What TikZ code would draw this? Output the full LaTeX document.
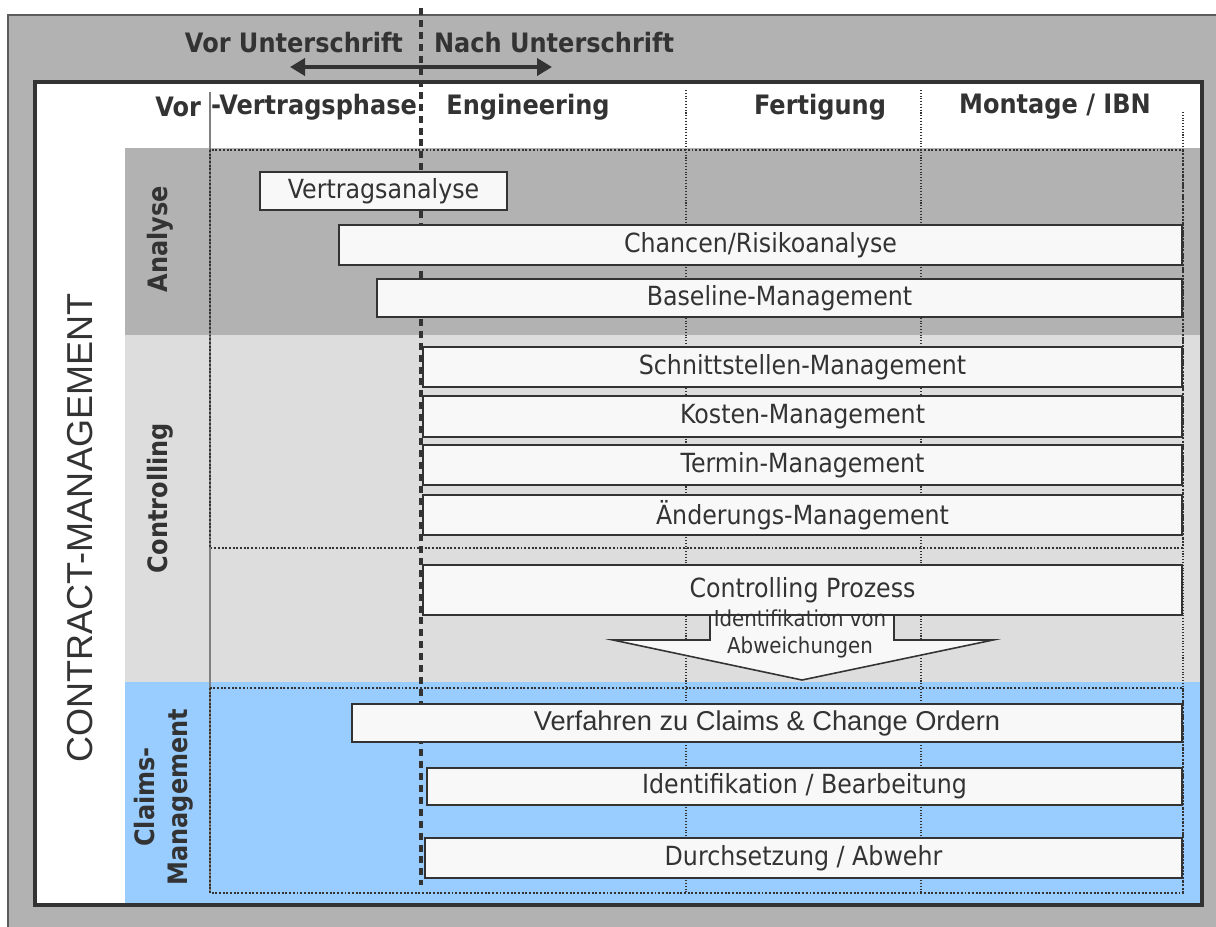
\documentclass[tikz,border=0pt]{standalone}
\usepackage{fontspec}
\setmainfont{DejaVu Sans}[FakeStretch=0.9]
\newfontfamily\arialfont{Liberation Sans}
\usetikzlibrary{arrows.meta,fit}

\definecolor{ink}{HTML}{333333}
\definecolor{frame}{HTML}{B2B2B2}
\definecolor{analyse}{HTML}{B2B2B2}
\definecolor{control}{HTML}{DDDDDD}
\definecolor{claims}{HTML}{99CCFF}
\definecolor{barfill}{HTML}{F8F8F8}

\begin{document}
\begin{tikzpicture}[x=0.2mm, y=-0.2mm]
\tikzset{ >={Triangle[length=3mm,width=3.4mm]}, inner sep=0pt, outer sep=0pt,
  taskbox/.style={draw=ink, line width=0.9pt, fill=barfill},
  task/.style={taskbox, label={[tasktext]center:#1}},
  tasktext/.style={text=ink, font=\fontsize{15}{18}\selectfont},
  head/.style={text=ink, font=\bfseries\fontsize{15.2}{18.7}\selectfont},
  phase/.style={ink, densely dotted, line width=0.6pt},
  area/.style={ink, densely dotted, line width=1.1pt},
}
\useasboundingbox (0,0) rectangle (1216,926);
%\draw [lightgray, dashed, step=50] (0,0) grid (1216,926);

\draw [ink!80, line width=0.8pt, fill=frame] (8,15) rectangle (1240,950);
\fill [white] (35,82) rectangle (1202,905);

\fill [analyse] (125,148) rectangle (1202,335);
\fill [control] (125,335) rectangle (1202,682);
\fill [claims]  (125,682) rectangle (1202,905);

\draw [gray, line width=0.6pt] (210,92) -- (210,893);
\draw [phase] (686,90)  -- (686,893);
\draw [phase] (921,90)  -- (921,893);
\draw [phase] (1183,112) -- (1183,893);

\draw [area] (210,150) rectangle (1183,548);
\draw [area] (210,688) rectangle (1183,893);

% Unterschrift
\draw [ink, line width=2.8pt, dash pattern=on 4pt off 2.8pt] (421,8) -- (421,885);

\draw [ink, line width=0.9pt, fill=barfill]
  (710,600) -- (710,640) -- (613,640) -- (802,680) -- (993,640) -- (894,640) -- (894,600) -- cycle;

\node [task=Vertragsanalyse,       fit={(260,172) (507,210)}]  (VA) {};
\node [task=Chancen/Risikoanalyse, fit={(339,225) (1182,265)}] (CR) {};
\node [task=Baseline-Management,   fit={(377,279) (1182,317)}] (BM) {};

\node [task=Schnittstellen-Management, fit={(423,347) (1182,387)}] (SM) {};
\node [task=Kosten-Management,         fit={(423,396) (1182,437)}] (KM) {};
\node [task=Termin-Management,         fit={(423,445) (1182,485)}] (TM) {};
\node [task=Änderungs-Management,      fit={(423,495) (1182,535)}] (AM) {};
\node [task=Controlling Prozess,       fit={(423,565) (1182,615)}] (CP) {};

\node [taskbox, fit={(352,704) (1182,742)},
  label={[tasktext, font=\arialfont\fontsize{15.5}{18}\selectfont]center:Verfahren zu Claims \& Change Ordern}] (VC) {};
\node [task=Identifikation / Bearbeitung, fit={(427,768) (1182,805)}] (IB) {};
\node [task=Durchsetzung / Abwehr,        fit={(425,838) (1182,878)}] (DA) {};

\node [text=ink, align=center, font=\fontsize{12.5}{15.3}\selectfont] (IA) at (800,634) {Identifikation von\\Abweichungen};

\draw [ink, line width=2.3pt] (35,82) rectangle (1202,905);

\node [head, anchor=east] (VU) at (403,43) {Vor Unterschrift};
\node [head, anchor=west] (NU) at (434,43) {Nach Unterschrift};
\coordinate (AL) at (290,67);
\coordinate (AR) at (552,67);
\draw [<->, ink, line width=2.8pt] (AL) -- (AR);

\node [head, anchor=east] (VOR) at (201,107) {Vor};
\node [head, anchor=west] (VP)  at (211,107) {-Vertragsphase};
\node [head] (ENG) at (528,107) {Engineering};
\node [head] (FER) at (820,107) {Fertigung};
\node [head] (MON) at (1055,107) {Montage / IBN};

\node [head, rotate=90] (AN) at (160,239) {Analyse};
\node [head, rotate=90] (CO) at (160,498) {Controlling};
\node [head, rotate=90, align=center] (CL) at (164,797) {Claims-\\Management};

\node [rotate=90, text=ink, font=\arialfont\fontsize{20.5}{24}\selectfont] (CTM) at (80,528) {CONTRACT-MANAGEMENT};

\end{tikzpicture}
\end{document}
